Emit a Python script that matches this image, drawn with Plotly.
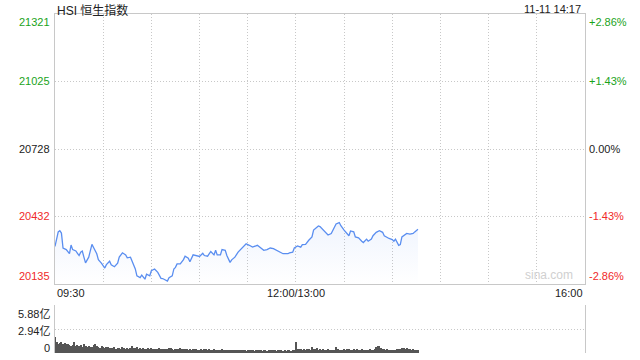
import plotly.graph_objects as go

# ---------------- data ----------------
title_text = "HSI 恒生指数"
stamp_text = "11-11 14:17"
prev_close = 20728

price_times = [
    "09:30", "09:32", "09:33", "09:34", "09:35", "09:37", "09:39", "09:40", "09:41", "09:43",
    "09:44", "09:45", "09:46", "09:47", "09:48", "09:49", "09:51", "09:52", "09:53", "09:54",
    "09:56", "09:57", "09:59", "10:01", "10:02", "10:04", "10:05", "10:07", "10:09", "10:10",
    "10:12", "10:14", "10:15", "10:17", "10:18", "10:20", "10:21", "10:23", "10:24", "10:26",
    "10:27", "10:29", "10:30", "10:32", "10:34", "10:36", "10:37", "10:40", "10:41", "10:43",
    "10:44", "10:45", "10:46", "10:48", "10:50", "10:51", "10:53", "10:54", "10:56", "10:58",
    "11:00", "11:02", "11:03", "11:05", "11:07", "11:09", "11:10", "11:11", "11:13", "11:14",
    "11:16", "11:17", "11:19", "11:20", "11:22", "11:24", "11:26", "11:28", "11:29", "11:31",
    "11:33", "11:36", "11:38", "11:40", "11:42", "11:44", "11:46", "11:48", "11:50", "11:52",
    "11:55", "11:56", "11:58", "11:59", "13:01", "13:03", "13:04", "13:06", "13:08", "13:10",
    "13:11", "13:14", "13:15", "13:17", "13:18", "13:20", "13:22", "13:23", "13:25", "13:27",
    "13:28", "13:30", "13:32", "13:33", "13:34", "13:36", "13:37", "13:39", "13:41", "13:42",
    "13:44", "13:45", "13:47", "13:48", "13:50", "13:52", "13:54", "13:55", "13:58", "14:00",
    "14:01", "14:02", "14:04", "14:05", "14:06", "14:08", "14:09", "14:11", "14:13", "14:14",
    "14:16",
]
price_values = [
    20300, 20364, 20369, 20359, 20293, 20286, 20268, 20306, 20286, 20280,
    20270, 20260, 20275, 20280, 20253, 20228, 20253, 20283, 20309, 20295,
    20268, 20242, 20226, 20205, 20220, 20235, 20219, 20211, 20226, 20253,
    20272, 20263, 20250, 20253, 20238, 20201, 20171, 20163, 20174, 20156,
    20178, 20171, 20193, 20201, 20186, 20160, 20159, 20148, 20163, 20171,
    20201, 20208, 20223, 20223, 20242, 20257, 20248, 20233, 20263, 20260,
    20256, 20270, 20260, 20257, 20278, 20263, 20283, 20263, 20263, 20286,
    20283, 20260, 20230, 20241, 20253, 20275, 20290, 20308, 20312, 20305,
    20297, 20305, 20293, 20283, 20286, 20293, 20290, 20283, 20275, 20268,
    20268, 20272, 20275, 20293, 20302, 20297, 20308, 20309, 20327, 20342,
    20372, 20390, 20387, 20372, 20368, 20350, 20357, 20369, 20399, 20405,
    20391, 20372, 20353, 20347, 20368, 20364, 20342, 20338, 20323, 20317,
    20332, 20323, 20332, 20347, 20362, 20369, 20362, 20347, 20335, 20330,
    20323, 20332, 20305, 20308, 20342, 20350, 20357, 20354, 20357, 20364,
    20375,
]

# per-minute volume (亿), 09:30-11:59 then 13:00-14:16
volume_values = [
    1.90, 1.35, 1.10, 1.25, 1.38, 1.15, 1.22, 1.05, 1.12, 0.92,
    0.85, 0.98, 1.30, 0.88, 1.02, 0.90, 0.95, 0.78, 1.05, 0.82,
    0.76, 0.88, 0.70, 0.72, 0.95, 1.10, 0.80, 0.72, 0.66, 0.85,
    0.70, 0.62, 0.68, 0.75, 0.60, 0.58, 0.66, 0.72, 0.55, 0.64,
    0.60, 0.52, 0.70, 0.58, 0.55, 0.62, 0.50, 0.58, 0.84, 0.60,
    0.56, 0.72, 0.54, 0.60, 0.48, 0.62, 0.55, 0.50, 0.58, 0.52,
    0.60, 0.50, 0.55, 0.46, 0.52, 0.58, 0.48, 0.44, 0.54, 0.50,
    0.46, 0.56, 0.60, 0.48, 0.42, 0.50, 0.45, 0.52, 0.64, 0.50,
    0.46, 0.55, 0.48, 0.42, 0.50, 0.40, 0.46, 0.52, 0.44, 0.38,
    0.42, 0.48, 0.40, 0.45, 0.50, 0.36, 0.44, 0.40, 0.38, 0.46,
    0.40, 0.35, 0.42, 0.38, 0.44, 0.36, 0.40, 0.34, 0.38, 0.42,
    0.36, 0.32, 0.40, 0.35, 0.38, 0.33, 0.42, 0.36, 0.34, 0.30,
    0.35, 0.38, 0.32, 0.36, 0.30, 0.34, 0.40, 0.32, 0.35, 0.30,
    0.33, 0.36, 0.30, 0.34, 0.38, 0.31, 0.35, 0.32, 0.29, 0.34,
    0.31, 0.36, 0.30, 0.33, 0.28, 0.32, 0.35, 0.30, 0.34, 0.40,
    1.40, 0.45, 0.55, 0.50, 0.42, 0.48, 0.40, 0.52, 0.45, 0.38,
    0.70, 0.55, 0.48, 0.60, 0.42, 0.50, 0.38, 0.46, 0.42, 0.36,
    0.45, 0.40, 0.35, 0.42, 0.38, 0.70, 0.44, 0.40, 0.36, 0.42,
    0.46, 0.38, 0.44, 0.50, 0.40, 0.36, 0.45, 0.42, 0.48, 0.40,
    0.38, 0.44, 0.36, 0.42, 0.40, 0.35, 0.46, 0.40, 0.38, 0.52,
    0.75, 0.85, 0.80, 0.60, 0.50, 0.45, 0.40, 0.44, 0.38, 0.36,
    0.42, 0.40, 0.35, 0.48, 0.45, 0.55, 0.60, 0.66, 0.52, 0.64,
    0.48, 0.45, 0.40, 0.44, 0.38, 0.36, 0.40,
]

price_ticks = [20135, 20432, 20728, 21025, 21321]
pct_labels = ["-2.86%", "-1.43%", "0.00%", "+1.43%", "+2.86%"]
volume_ticks = [0, 2.94, 5.88]
volume_labels = ["0", "2.94亿", "5.88亿"]
x_labels = ["09:30", "12:00/13:00", "16:00"]
x_label_times = ["09:30", "12:00", "16:00"]


def session_minute(t):
    h, m = map(int, t.split(":"))
    total = h * 60 + m
    if total <= 12 * 60:
        return total - (9 * 60 + 30)
    return total - 13 * 60 + 150


px_ = [session_minute(t) for t in price_times]
vol_x = list(range(len(volume_values)))

FONT = "Liberation Sans, Arial, Noto Sans CJK SC, sans-serif"
GREEN = "#1aa31a"
RED = "#f02a2a"
DARK = "#222222"
GRID = "#c8c8c8"
LINE = "#c8c8c8"
DOT = "1px,2px"

fig = go.Figure()
fig.add_trace(go.Scatter(
    x=px_, y=price_values, mode="lines",
    line=dict(color="#5a8ef0", width=1.3),
    fill="tozeroy",
    fillgradient=dict(type="vertical",
                      colorscale=[[0, "rgba(90,142,240,0.0)"], [1, "rgba(90,142,240,0.09)"]],
                      start=20135, stop=20400),
    hoverinfo="skip", xaxis="x", yaxis="y",
))
fig.add_trace(go.Bar(
    x=vol_x, y=volume_values, width=0.62,
    marker=dict(color="#555555", line=dict(width=0)),
    hoverinfo="skip", xaxis="x2", yaxis="y2",
))

main_bottom = 69 / 339
vol_top = 48 / 339

fig.update_layout(
    width=640, height=360,
    margin=dict(l=55, r=55, t=14, b=7),
    paper_bgcolor="white", plot_bgcolor="white",
    showlegend=False,
    bargap=0,
    font=dict(family=FONT, size=11, color=DARK),
    xaxis=dict(domain=[0, 1], range=[0, 330], anchor="y",
               tickvals=list(range(30, 330, 30)), showticklabels=False, ticks="",
               showgrid=True, gridcolor=GRID, griddash=DOT, gridwidth=1,
               showline=True, mirror=True, linecolor=LINE, linewidth=1, zeroline=False),
    yaxis=dict(domain=[main_bottom, 1], range=[price_ticks[0], price_ticks[-1]], anchor="x",
               tickvals=price_ticks[1:-1], showticklabels=False, ticks="",
               showgrid=True, gridcolor=GRID, griddash=DOT, gridwidth=1,
               showline=True, mirror=True, linecolor=LINE, linewidth=1, zeroline=False),
    xaxis2=dict(domain=[0, 1], range=[0, 330], anchor="y2",
                showticklabels=False, ticks="", showgrid=False, showline=False, zeroline=False),
    yaxis2=dict(domain=[0, vol_top], range=[0, volume_ticks[-1]], anchor="x2",
                tickvals=volume_ticks, showticklabels=False, ticks="",
                showgrid=True, gridcolor=GRID, griddash=DOT, gridwidth=1,
                showline=True, mirror=True, linecolor=LINE, linewidth=1, zeroline=False),
)

ann = []
ann.append(dict(text=title_text, xref="paper", yref="paper", x=0, y=1, xanchor="left",
                yanchor="middle", yshift=4, showarrow=False,
                font=dict(size=12, color=DARK, family=FONT)))
ann.append(dict(text=stamp_text, xref="paper", yref="paper", x=1, y=1, xanchor="right",
                yanchor="middle", xshift=-2, yshift=5, showarrow=False,
                font=dict(size=11, color=DARK, family=FONT)))

for i, (v, p) in enumerate(zip(price_ticks, pct_labels)):
    col = GREEN if v > prev_close else (RED if v < prev_close else DARK)
    if i == len(price_ticks) - 1:
        ya = "top"
    elif i == 0:
        ya = "bottom"
    else:
        ya = "middle"
    ann.append(dict(text=str(v), xref="paper", yref="y", x=0, y=v, xanchor="right",
                    yanchor=ya, xshift=-3, showarrow=False,
                    font=dict(size=11, color=col, family=FONT)))
    ann.append(dict(text=p, xref="paper", yref="y", x=1, y=v, xanchor="left",
                    yanchor=ya, xshift=2, showarrow=False,
                    font=dict(size=11, color=col, family=FONT)))

for lab, t in zip(x_labels, x_label_times):
    m = session_minute(t) if t != "16:00" else 330
    xa = "left" if m == 0 else ("right" if m == 330 else "center")
    ann.append(dict(text=lab, xref="x", yref="paper", x=m, y=main_bottom, xanchor=xa,
                    yanchor="top", yshift=-1, showarrow=False,
                    font=dict(size=11, color=DARK, family=FONT)))

vol_anchor = ["bottom", "middle", "top"]
vol_shift = [-3, -2, -1]
for v, lab, ya, ys in zip(volume_ticks, volume_labels, vol_anchor, vol_shift):
    ann.append(dict(text=lab, xref="paper", yref="y2", x=0, y=v, xanchor="right",
                    yanchor=ya, xshift=-3, yshift=ys,
                    showarrow=False, font=dict(size=11, color=DARK, family=FONT)))

ann.append(dict(text="sina.com", xref="paper", yref="paper", x=1, y=main_bottom,
                xanchor="right", yanchor="bottom", xshift=-10, yshift=0, showarrow=False,
                font=dict(size=12, color="#d0d0d0", family=FONT)))

fig.update_layout(annotations=ann)
fig.write_html("out.html", config={"displayModeBar": False},
               post_script="document.body.style.margin='0';document.body.style.padding='0';")
